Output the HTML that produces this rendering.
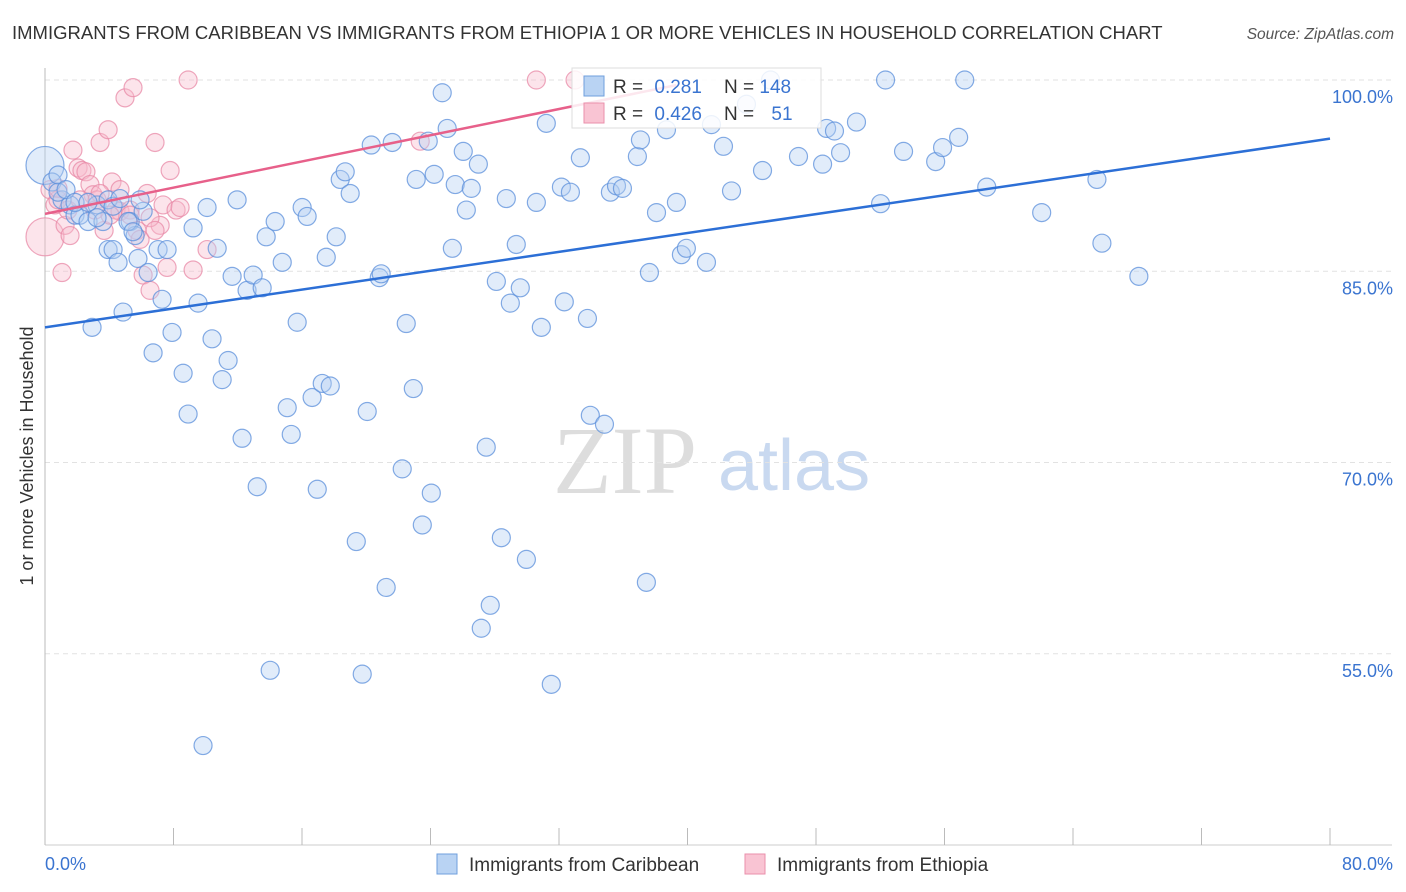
<!DOCTYPE html>
<html><head><meta charset="utf-8">
<style>
body{margin:0;background:#fff;font-family:"Liberation Sans",sans-serif;}
svg{display:block}
</style></head>
<body>
<svg id="chart" width="1406" height="892" xmlns="http://www.w3.org/2000/svg">
<text x="12" y="39" font-size="18.5" fill="#333">IMMIGRANTS FROM CARIBBEAN VS IMMIGRANTS FROM ETHIOPIA 1 OR MORE VEHICLES IN HOUSEHOLD CORRELATION CHART</text>
<text x="1394" y="39" font-size="15.5" fill="#555" font-style="italic" text-anchor="end">Source: ZipAtlas.com</text>
<g>
<text x="553" y="493" font-size="96" fill="#ddd" font-family="Liberation Serif,serif">ZIP</text>
<text x="718" y="490" font-size="72" fill="#c9d9f0">atlas</text>
</g>
<g id="grid"></g>
<g id="axes"></g>
<g id="pink"></g>
<g id="blue"></g>
<g id="trends"></g>
<g>
<rect x="572" y="68" width="249" height="60" fill="#fff" fill-opacity="0.85" stroke="#ddd"/>
<rect x="584" y="76" width="20" height="20" fill="#b9d3f3" stroke="#6f9fdc"/>
<rect x="584" y="103" width="20" height="20" fill="#f9c4d3" stroke="#ea8fab"/>
<text x="613" y="93" font-size="19" fill="#333">R = <tspan fill="#3a74d0" dx="6">0.281</tspan></text>
<text x="724" y="93" font-size="19" fill="#333">N = <tspan fill="#3a74d0">148</tspan></text>
<text x="613" y="120" font-size="19" fill="#333">R = <tspan fill="#3a74d0" dx="6">0.426</tspan></text>
<text x="724" y="120" font-size="19" fill="#333">N = <tspan fill="#3a74d0" dx="12">51</tspan></text>
</g>
<g>
<rect x="437" y="854" width="20" height="20" fill="#b9d3f3" stroke="#6f9fdc"/>
<text x="469" y="871" font-size="19" fill="#333">Immigrants from Caribbean</text>
<rect x="745" y="854" width="20" height="20" fill="#f9c4d3" stroke="#ea8fab"/>
<text x="777" y="871" font-size="19" fill="#333">Immigrants from Ethiopia</text>
</g>
<text transform="translate(33,456) rotate(-90)" font-size="18" fill="#333" text-anchor="middle">1 or more Vehicles in Household</text>
</svg>
<script>
const yTicks=[100,85,70,55];
const yTickLabels=["100.0%","85.0%","70.0%","55.0%"];
const xTickLabels=["0.0%","80.0%"];
const blueX=[0,0.44,0.81,1.06,1.56,1.87,2.18,2.68,2.93,3.24,3.61,3.93,4.24,4.55,4.86,5.30,5.61,5.79,6.11,6.42,6.73,7.04,7.29,7.60,7.91,8.60,8.91,9.22,9.53,9.84,10.09,10.40,10.72,11.03,11.40,11.65,11.96,12.27,12.58,12.96,13.21,13.52,13.77,14.02,14.33,14.77,15.08,15.33,15.70,16.01,16.32,16.63,16.95,17.26,17.51,17.76,18.13,18.38,18.69,19.00,19.38,19.75,20.06,20.31,20.81,20.93,21.24,21.62,22.24,22.49,22.93,23.11,23.49,23.86,24.05,24.23,24.73,25.04,25.36,25.54,26.04,26.23,26.54,26.98,27.16,27.47,27.72,28.10,28.41,28.72,28.97,29.34,29.59,29.97,30.59,30.90,31.21,31.52,32.15,32.33,32.71,33.33,33.77,33.95,34.83,35.20,35.58,35.95,36.88,37.07,37.44,37.63,38.07,38.69,39.31,39.62,39.93,41.18,41.49,42.24,42.74,43.67,44.67,45.17,46.91,48.41,48.66,49.15,49.53,50.52,52.02,52.33,53.45,55.45,55.88,56.88,57.26,58.63,62.05,65.49,65.80,68.1,0.81,1.31,1.87,2.68,3.24,3.93,4.24,4.67,5.17,5.48,5.92];
const blueY=[93.3,92.0,92.55,90.6,90.2,89.4,89.4,88.9,80.6,90.2,88.9,86.7,86.7,85.7,81.8,88.9,87.8,86.0,89.7,84.9,78.6,86.7,82.8,86.7,80.2,77.0,73.8,88.4,82.5,47.8,90.0,79.7,86.8,76.5,78.0,84.6,90.6,71.9,83.5,84.7,68.1,83.7,87.7,53.7,88.9,85.7,74.3,72.2,81.0,90.0,89.3,75.1,67.9,76.2,86.1,76.0,87.7,92.2,92.8,91.1,63.8,53.4,74.0,94.9,84.5,84.8,60.2,95.1,69.5,80.9,75.8,92.2,65.1,95.2,67.6,92.6,99.0,96.2,86.8,91.8,94.4,89.8,91.5,93.4,57.0,71.2,58.8,84.2,64.1,90.7,82.5,87.1,83.7,62.4,90.4,80.6,96.6,52.6,91.6,82.6,91.2,93.9,81.3,73.7,73.0,91.2,91.7,91.5,94.0,95.3,60.6,84.9,89.6,96.1,90.4,86.3,86.8,85.7,96.5,94.8,91.3,98.1,92.9,100,94.0,93.4,96.2,96.0,94.3,96.7,90.3,100,94.4,93.6,94.7,95.5,100,91.6,89.6,92.2,87.2,84.6,91.2,91.4,90.4,90.4,89.2,90.6,90.1,90.7,88.9,88.1,90.6];
const pinkX=[0,0.31,0.62,0.81,1.06,1.25,1.56,1.74,2.06,2.30,2.55,2.80,2.99,3.24,3.43,3.68,3.93,4.17,4.42,4.67,4.98,5.30,5.48,5.73,6.11,6.36,6.54,6.85,7.17,7.35,7.60,7.79,8.16,8.41,8.91,9.22,10.09,23.36,30.59,33.0,0.81,1.43,2.18,3.11,4.05,5.92,6.54,6.85,3.43,4.67,5.30];
const pinkY=[87.7,91.4,90.2,90.6,84.9,88.6,87.8,94.5,93.1,92.9,92.8,91.8,91.0,90.6,95.1,88.2,96.1,92.0,89.8,89.7,98.6,89.8,99.4,88.2,84.7,91.1,83.5,95.1,88.6,90.2,85.3,92.9,89.8,90.0,100,85.1,86.7,95.2,100,100,91.5,89.8,90.6,89.8,89.4,87.5,89.2,88.2,91.1,91.4,89.4];
const blueTrend=[[0,80.6],[80,95.4]];
const pinkTrend=[[0,89.5],[39.3,99.6]];

const NS="http://www.w3.org/2000/svg";
const X0=45,X1=1330,Ytop=80;
const xs=v=>X0+(X1-X0)*v/80;
const ys=v=>Ytop+(100-v)*12.75;
function mk(tag,attrs,parent){const e=document.createElementNS(NS,tag);for(const k in attrs)e.setAttribute(k,attrs[k]);parent.appendChild(e);return e;}
const grid=document.getElementById('grid'),axes=document.getElementById('axes');
yTicks.forEach((t,i)=>{
  const l=mk('line',{x1:X0,x2:1392,y1:ys(t),y2:ys(t),stroke:'#e2e2e2','stroke-dasharray':'5,4'},grid);
  
  
  const tx=mk('text',{x:1393,y:ys(t)+23,'font-size':18,fill:'#3a74d0','text-anchor':'end'},axes);
  tx.textContent=yTickLabels[i];
  
  
});
mk('line',{x1:X0,x2:X0,y1:68,y2:845,stroke:'#bbb'},axes);
mk('line',{x1:X0,x2:1392,y1:845,y2:845,stroke:'#ccc'},axes);
for(let i=0;i<=10;i++){const l=mk('line',{x1:xs(i*8),x2:xs(i*8),y1:828,y2:845,stroke:'#bbb'},axes);
  
  }
const xl0=mk('text',{x:45,y:870,'font-size':18,fill:'#3a74d0'},axes);xl0.textContent=xTickLabels[0];


const xl1=mk('text',{x:1393,y:870,'font-size':18,fill:'#3a74d0','text-anchor':'end'},axes);xl1.textContent=xTickLabels[1];


function dots(X,Y,g,fill,stroke,name){X.forEach((x,i)=>{
  const c=mk('circle',{cx:xs(x),cy:ys(Y[i]),r:(i===0?19:9),fill:fill,'fill-opacity':0.4,stroke:stroke,'stroke-opacity':0.75,'stroke-width':1.2},g);
  
  });}
dots(pinkX,pinkY,document.getElementById('pink'),'#f7bccd','#e889a7','ethiopia-point');
dots(blueX,blueY,document.getElementById('blue'),'#b3cff2','#5b8fdb','caribbean-point');
const tg=document.getElementById('trends');
const bl=mk('line',{x1:xs(blueTrend[0][0]),y1:ys(blueTrend[0][1]),x2:xs(blueTrend[1][0]),y2:ys(blueTrend[1][1]),stroke:'#2c6fd6','stroke-width':2.5},tg);


const pl=mk('line',{x1:xs(pinkTrend[0][0]),y1:ys(pinkTrend[0][1]),x2:xs(pinkTrend[1][0]),y2:ys(pinkTrend[1][1]),stroke:'#e7608a','stroke-width':2.5},tg);


</script>
</body></html>
